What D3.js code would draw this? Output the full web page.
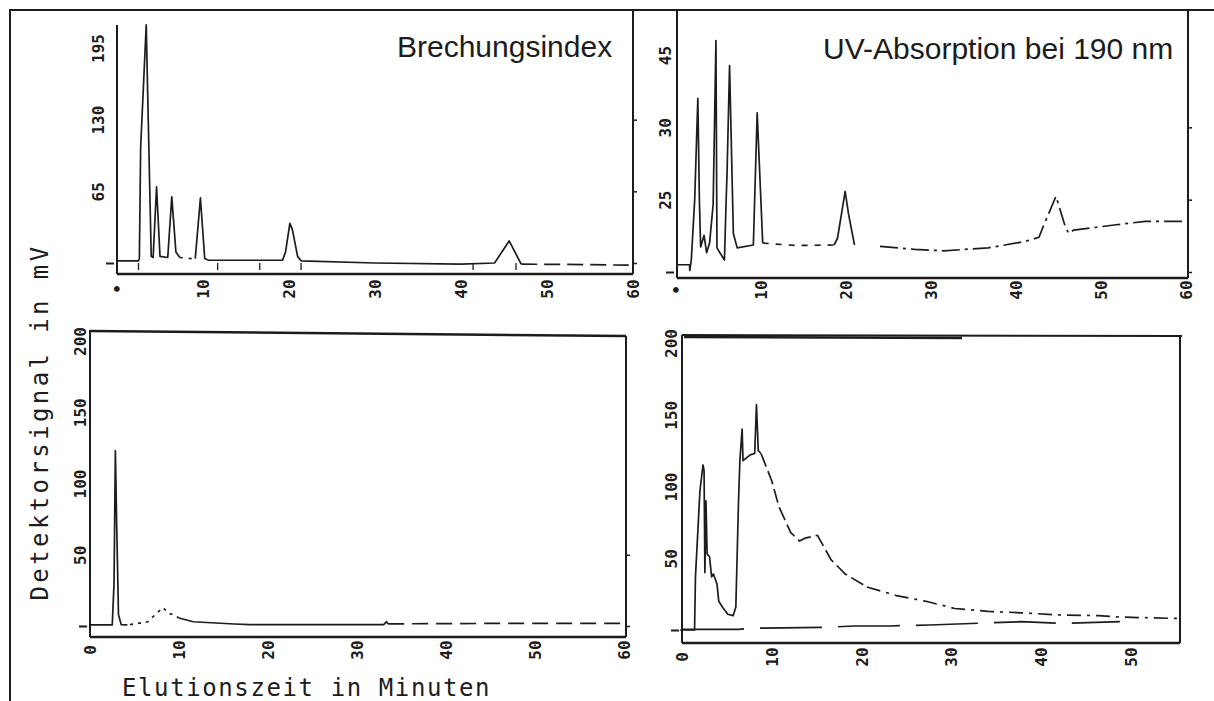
<!DOCTYPE html>
<html>
<head>
<meta charset="utf-8">
<script src="https://cdn.jsdelivr.net/npm/d3@7"></script>
<style>
  body { margin: 0; background: #fff; }
</style>
</head>
<body>
<svg id="chart" width="1214" height="701"></svg>
<script>
// ---- data (time in minutes, signal in mV) ----

// top left: Brechungsindex
let tl_xticks = [0, 10, 20, 30, 40, 50, 60];
let tl_xlabels = ["•", "10", "20", "30", "40", "50", "60"];
let tl_yticks = [65, 130, 195];
let tl_ylabels = ["65", "130", "195"];
let tl_solid = [[0, 2], [2.5, 2], [2.6, 4], [2.75, 105], [3.4, 216], [3.55, 160], [3.98, 6], [4.2, 5], [4.6, 69],
                [5.0, 6], [5.9, 5], [6.37, 60], [6.85, 10], [7.3, 5]];
let tl_dots = [[7.3, 5], [8.75, 4], [9.1, 4]];
let tl_solid2 = [[9.1, 4], [9.7, 59], [10.2, 4], [10.65, 2.5], [19.25, 2.5], [19.6, 10], [20.1, 36], [20.4, 30],
                 [21.0, 6], [21.4, 2], [30, 0], [40, -1], [43.9, 0], [45.6, 20], [47.0, -1]];
let tl_dashed = [[47.0, -1], [55, -1.5], [59.5, -2]];
let tl_marks = [2.5, 11.7, 16.6, 21.4, 41.4, 46.4];

// top right: UV-Absorption bei 190 nm
let tr_xticks = [0, 10, 20, 30, 40, 50, 60];
let tr_xlabels = ["•", "10", "20", "30", "40", "50", "60"];
let tr_yticks = [15, 30, 45];
let tr_ylabels = ["25", "30", "45"];
let tr_solid = [[0, 1.5], [1.6, 1.5], [1.62, 0.3], [1.8, 2.5], [2.2, 15], [2.57, 36], [2.75, 15], [2.9, 5.2],
                [3.3, 7.6], [3.6, 4], [3.95, 6], [4.37, 14], [4.7, 48], [4.82, 5], [5.2, 3.9], [5.7, 2.5],
                [5.9, 15], [6.0, 20], [6.3, 42.8], [6.75, 8], [7.2, 5], [9.1, 5.6], [9.55, 33], [10.2, 6]];
let tr_dashed = [[10.2, 6], [14, 5.5], [18.6, 5.6]];
let tr_solid2 = [[18.6, 5.6], [19.0, 7], [19.9, 16.7], [20.3, 12], [21, 5.6]];
let tr_dashed2 = [[24, 5.3], [28.1, 4.7], [31.5, 4.4], [36.7, 5], [41, 6.3], [42.7, 7.2], [43.2, 9.4],
                  [44.7, 15.7], [45.8, 9.4], [46.2, 8], [46.8, 8.7], [51.8, 9.8], [55.2, 10.5], [60, 10.5]];

// bottom left
let bl_xticks = [0, 10, 20, 30, 40, 50, 60];
let bl_xlabels = ["0", "10", "20", "30", "40", "50", "60"];
let bl_yticks = [50, 100, 150, 200];
let bl_ylabels = ["50", "100", "150", "200"];
let bl_solid = [[0, 0.8], [2.5, 0.8], [2.7, 30], [2.85, 123], [3.0, 70], [3.2, 8], [3.5, 1], [4.2, 0.8]];
let bl_dots = [[4.5, 1], [6.5, 3], [7.5, 9], [8.2, 13], [8.8, 9], [9.3, 8], [10, 5.6]];
let bl_solid2 = [[10, 5.6], [11.6, 3], [16.2, 1.4], [18, 1], [33, 1], [33.3, 3], [33.5, 1.5]];
let bl_dashed = [[33.5, 1.5], [45, 1.8], [60, 1.8]];

// bottom right
let br_xticks = [0, 10, 20, 30, 40, 50];
let br_xlabels = ["0", "10", "20", "30", "40", "50"];
let br_yticks = [50, 100, 150, 200];
let br_ylabels = ["50", "100", "150", "200"];
let br_solid = [[-0.2, 0], [1.4, 0], [1.5, 37], [2.0, 97], [2.34, 115], [2.46, 111], [2.55, 40], [2.67, 90],
                [2.8, 53], [3.07, 51], [3.3, 37], [3.5, 39], [3.9, 32], [4.1, 20], [4.5, 16], [5.1, 11],
                [5.7, 10], [6.0, 16], [6.3, 90], [6.45, 118], [6.7, 140], [6.8, 118], [7.6, 122], [8.1, 123],
                [8.3, 157], [8.5, 125], [8.8, 123]];
let br_dashed = [[8.8, 123], [10.0, 104], [10.8, 86], [12.1, 68], [13.1, 62], [13.7, 64], [15.1, 66],
                 [16.6, 49], [18.2, 39], [20.6, 30]];
let br_dashdot = [[20.6, 30], [23.9, 24], [27.2, 20], [30.4, 15], [34.1, 13], [37.8, 12], [41.9, 10.5],
                  [46.4, 10], [48.8, 9], [55.5, 8]];
let br_base = [[0, 0.5], [6.3, 0.5], [7.6, 1.2], [15.7, 1.8], [19.2, 2.8], [23.1, 2.8], [27.6, 3.5],
               [37.8, 5.8], [42.3, 4.6], [48.8, 5.8]];

// ---- drawing ----
const svg = d3.select('#chart');
const ink = '#1c1c1c';
const tickFont = '"DejaVu Sans Mono", monospace';

// outer frame of the figure
svg.append('path')
    .attr('d', 'M10,701 L10,10 L1214,10')
    .attr('fill', 'none')
    .attr('stroke', ink)
    .attr('stroke-width', 2);

function drawPanel(p) {
    const x = d3.scaleLinear().domain(p.xdom).range(p.xr);
    const y = d3.scaleLinear().domain(p.ydom).range(p.yr);
    const g = svg.append('g');

    g.selectAll('line.frame')
        .data(p.frame)
        .join('line')
        .attr('class', 'frame')
        .attr('x1', d => d[0]).attr('y1', d => d[1])
        .attr('x2', d => d[2]).attr('y2', d => d[3])
        .attr('stroke', ink)
        .attr('stroke-width', d => d[4] || 2);

    const line = d3.line().x(d => x(d[0])).y(d => y(d[1]));
    g.selectAll('path.trace')
        .data(p.traces)
        .join('path')
        .attr('class', 'trace')
        .attr('d', d => line(d.pts))
        .attr('fill', 'none')
        .attr('stroke', ink)
        .attr('stroke-width', 1.7)
        .attr('stroke-linejoin', 'round')
        .attr('stroke-dasharray', d => d.dash || null);

    // x tick labels, rotated
    const gx = g.append('g')
        .attr('transform', `translate(0,${p.xAxisY})`)
        .call(d3.axisBottom(x).tickValues(p.xticks).tickFormat((d, i) => p.xlabels[i]).tickSize(0));
    gx.select('.domain').remove();
    gx.selectAll('text')
        .attr('x', 0).attr('y', 0).attr('dy', '0.35em')
        .attr('transform', `translate(0,${p.xLabOff}) rotate(-90)`)
        .attr('text-anchor', 'middle')
        .attr('fill', ink)
        .style('font-family', tickFont)
        .style('font-size', '16px')
        .style('font-weight', 'bold');

    // y tick labels, rotated
    const gy = g.append('g')
        .attr('transform', `translate(${p.yAxisX},0)`)
        .call(d3.axisLeft(y).tickValues(p.yticks).tickFormat((d, i) => p.ylabels[i]).tickSize(0));
    gy.select('.domain').remove();
    gy.selectAll('text')
        .attr('x', 0).attr('y', 0).attr('dy', '0.35em')
        .attr('transform', `translate(${-p.yLabOff},0) rotate(-90)`)
        .attr('text-anchor', 'middle')
        .attr('fill', ink)
        .style('font-family', tickFont)
        .style('font-size', '16px')
        .style('font-weight', 'bold');

    // zero mark left of the axis
    const gz = g.append('g')
        .attr('transform', `translate(${p.yAxisX - 3},0)`)
        .call(d3.axisLeft(y).tickValues([0]).tickSize(8).tickFormat(''));
    gz.select('.domain').remove();
    gz.selectAll('line').attr('stroke', ink).attr('stroke-width', 2);

    // small ticks on the right border
    const gr = g.append('g')
        .attr('transform', `translate(${p.rightX},0)`)
        .call(d3.axisRight(y).tickValues(p.rticks).tickSize(4).tickFormat(''));
    gr.select('.domain').remove();
    gr.selectAll('line').attr('stroke', ink).attr('stroke-width', 1.5);

    if (p.marks) {
        g.selectAll('line.mark')
            .data(p.marks)
            .join('line')
            .attr('class', 'mark')
            .attr('x1', d => x(d)).attr('x2', d => x(d))
            .attr('y1', y(0)).attr('y2', y(0) + 7)
            .attr('stroke', ink)
            .attr('stroke-width', 1.3);
    }
    return { x, y };
}

drawPanel({
    xdom: [0, 60], xr: [117, 633], ydom: [0, 195], yr: [263, 48],
    frame: [[117, 25, 117, 274], [117, 274, 633, 274, 2.5], [633, 10, 633, 274]],
    traces: [{ pts: tl_solid }, { pts: tl_dots, dash: '3,6' }, { pts: tl_solid2 }, { pts: tl_dashed, dash: '16,7' }],
    xticks: tl_xticks, xlabels: tl_xlabels, xAxisY: 274, xLabOff: 15,
    yticks: tl_yticks, ylabels: tl_ylabels, yAxisX: 117, yLabOff: 19,
    rightX: 633, rticks: [0, 65, 130],
    marks: tl_marks
});

drawPanel({
    xdom: [0, 60], xr: [676, 1186], ydom: [0, 45], yr: [272, 55],
    frame: [[677, 10, 677, 278], [677, 278, 1188, 278, 2.5], [1188, 10, 1188, 278]],
    traces: [{ pts: tr_solid }, { pts: tr_dashed, dash: '6,7' }, { pts: tr_solid2 }, { pts: tr_dashed2, dash: '18,5,3,5' }],
    xticks: tr_xticks, xlabels: tr_xlabels, xAxisY: 278, xLabOff: 12,
    yticks: tr_yticks, ylabels: tr_ylabels, yAxisX: 677, yLabOff: 12,
    rightX: 1188, rticks: [0, 15, 30]
});

drawPanel({
    xdom: [0, 60], xr: [90, 624], ydom: [0, 200], yr: [626, 341],
    frame: [[90, 330, 90, 637], [90, 331, 626, 336, 2.5], [626, 336, 626, 637], [90, 637, 626, 637, 2.5]],
    traces: [{ pts: bl_solid }, { pts: bl_dots, dash: '3,5' }, { pts: bl_solid2 }, { pts: bl_dashed, dash: '16,8' }],
    xticks: bl_xticks, xlabels: bl_xlabels, xAxisY: 637, xLabOff: 13,
    yticks: bl_yticks, ylabels: bl_ylabels, yAxisX: 90, yLabOff: 10,
    rightX: 626, rticks: [0, 50]
});

drawPanel({
    xdom: [0, 55.5], xr: [682, 1180], ydom: [0, 200], yr: [630, 343],
    frame: [[682, 335, 682, 643], [682, 335, 1182, 336, 2], [684, 337, 962, 338, 2.5], [1180, 336, 1180, 643],
            [682, 643, 1180, 643, 2.5]],
    traces: [{ pts: br_solid }, { pts: br_dashed, dash: '14,5' }, { pts: br_dashdot, dash: '14,6,3,6' },
             { pts: br_base, dash: '62,16' }],
    xticks: br_xticks, xlabels: br_xlabels, xAxisY: 643, xLabOff: 14,
    yticks: br_yticks, ylabels: br_ylabels, yAxisX: 682, yLabOff: 11,
    rightX: 1180, rticks: []
});

// panel titles
svg.append('text')
    .attr('x', 397).attr('y', 57)
    .attr('fill', ink)
    .style('font-family', '"Liberation Sans", Arial, sans-serif')
    .style('font-size', '30px')
    .text('Brechungsindex');

svg.append('text')
    .attr('x', 823).attr('y', 59)
    .attr('fill', ink)
    .style('font-family', '"Liberation Sans", Arial, sans-serif')
    .style('font-size', '30px')
    .text('UV-Absorption bei 190 nm');

// axis titles
svg.append('text')
    .attr('transform', 'translate(48,422) rotate(-90)')
    .attr('text-anchor', 'middle')
    .attr('fill', ink)
    .style('font-family', '"DejaVu Sans Mono", monospace')
    .style('font-size', '24px')
    .style('letter-spacing', '3.4px')
    .text('Detektorsignal in mV');

svg.append('text')
    .attr('x', 122).attr('y', 696)
    .attr('fill', ink)
    .style('font-family', '"DejaVu Sans Mono", monospace')
    .style('font-size', '24px')
    .style('letter-spacing', '1.6px')
    .text('Elutionszeit in Minuten');
</script>
</body>
</html>
